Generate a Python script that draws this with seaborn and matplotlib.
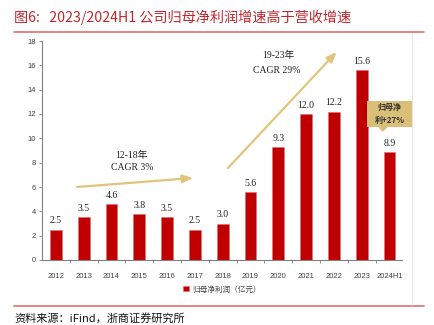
import matplotlib
matplotlib.use("Agg")
import matplotlib.pyplot as plt
import seaborn as sns
import pandas as pd
from matplotlib.patches import FancyBboxPatch
from matplotlib.lines import Line2D

years = ["2012", "2013", "2014", "2015", "2016", "2017", "2018", "2019",
         "2020", "2021", "2022", "2023", "2024H1"]
profit = [2.5, 3.5, 4.6, 3.8, 3.5, 2.5, 3.0, 5.6, 9.3, 12.0, 12.2, 15.6, 8.9]
value_labels = ["2.5", "3.5", "4.6", "3.8", "3.5", "2.5", "3.0", "5.6", "9.3",
                "12.0", "12.2", "15.6", "8.9"]
series_name = "归母净利润（亿元）"
title = "图6:   2023/2024H1 公司归母净利润增速高于营收增速"
source = "资料来源：iFind，浙商证券研究所"
note1 = ["12-18年", "CAGR 3%"]
note2 = ["19-23年", "CAGR 29%"]
callout = "归母净\n利+27%"

sns.set_theme(style="white")
plt.rcParams["font.family"] = ["Liberation Sans", "Noto Sans CJK SC"]
serif = ["Liberation Serif", "Noto Sans CJK SC"]

df = pd.DataFrame({"year": years, "profit": profit})

fig = plt.figure(figsize=(4.34, 3.25), dpi=100)
ax = fig.add_axes([42/434, 1-260/325, 360/434, 219/325])

bar_color = "#C00000"
sns.barplot(data=df, x="year", y="profit", color=bar_color, width=0.43,
            saturation=1, ax=ax, edgecolor="#E07070", linewidth=0.4,
            label=series_name)

ax.set_xlim(-0.5, 12.45)
ax.set_ylim(0, 18)
ax.set_yticks(range(0, 19, 2))
ax.set_xlabel("")
ax.set_ylabel("")
for s in ["top", "right"]:
    ax.spines[s].set_visible(False)
for s in ["left", "bottom"]:
    ax.spines[s].set_color("#808080")
    ax.spines[s].set_linewidth(0.8)
ax.tick_params(axis="y", which="major", left=True, length=2.5, width=0.6,
               color="#808080", labelsize=5.5, labelcolor="#404040", pad=2)
ax.tick_params(axis="x", which="major", bottom=False, labelsize=5.5,
               labelcolor="#404040", pad=3)
ax.set_xticks([i + 0.5 for i in range(12)], minor=True)
ax.tick_params(axis="x", which="minor", bottom=True, length=2.5, width=0.6,
               color="#808080")

for i, (v, lab) in enumerate(zip(profit, value_labels)):
    ax.annotate(lab, (i, v), xytext=(0, 3), textcoords="offset points",
                ha="center", va="bottom", fontsize=7, family=serif,
                color="#222222")

arrow_color = "#E2C47C"
ax.annotate("", xy=(4.93, 6.74), xytext=(0.76, 6.0),
            arrowprops=dict(arrowstyle="-|>,head_length=0.5,head_width=0.2",
                            color=arrow_color, lw=1.6, shrinkA=0, shrinkB=0))
ax.annotate("", xy=(10.1, 17.1), xytext=(6.19, 7.56),
            arrowprops=dict(arrowstyle="-|>,head_length=0.5,head_width=0.2",
                            color=arrow_color, lw=1.6, shrinkA=0, shrinkB=0))
ax.text(2.73, 8.6, note1[0], ha="center", va="center", fontsize=7,
        family=serif, color="#222222")
ax.text(2.73, 7.6, note1[1], ha="center", va="center", fontsize=7,
        family=serif, color="#222222")
ax.text(7.99, 16.8, note2[0], ha="center", va="center", fontsize=7,
        family=serif, color="#222222")
ax.text(7.95, 15.6, note2[1], ha="center", va="center", fontsize=7,
        family=serif, color="#222222")

# callout box
box_color = "#D9BF77"
box = FancyBboxPatch((11.2, 10.9), 1.6, 2.2, boxstyle="square,pad=0",
                     fc=box_color, ec="none", clip_on=False, zorder=3)
ax.add_patch(box)
ax.fill([11.62, 11.9, 11.76], [10.92, 10.92, 10.6], color=box_color,
        clip_on=False, zorder=3)
ax.text(12.0, 12.0, callout, ha="center", va="center", fontsize=5.8,
        fontweight="bold", color="#333333", linespacing=1.6,
        family=["Noto Sans CJK SC"], zorder=4)

leg = ax.legend(loc="upper center", bbox_to_anchor=(0.5, -0.085),
                frameon=False, fontsize=5.5, handlelength=0.7,
                handleheight=0.7, handletextpad=0.4)
for t in leg.get_texts():
    t.set_color("#404040")
    t.set_family(["Noto Sans CJK SC"])

# frame decorations
red = "#C0262D"
fig.text(14/434, 1-17/325, title, ha="left", va="center", fontsize=10.2,
         color=red, family=["Noto Sans CJK SC"])
fig.add_artist(Line2D([14/434, 424/434], [1-32/325, 1-32/325],
                      color="#E07070", lw=1.2))
fig.add_artist(Line2D([14/434, 424/434], [1-306/325, 1-306/325],
                      color="#E07070", lw=1.2))
fig.add_artist(Line2D([412/434, 412/434], [1-33/325, 1-305/325],
                      color="#E0E0E0", lw=0.6))
fig.text(14/434, 1-318/325, source, ha="left", va="center", fontsize=8,
         color="#111111", family=["Noto Sans CJK SC"])

fig.savefig("out.png", dpi=100)
